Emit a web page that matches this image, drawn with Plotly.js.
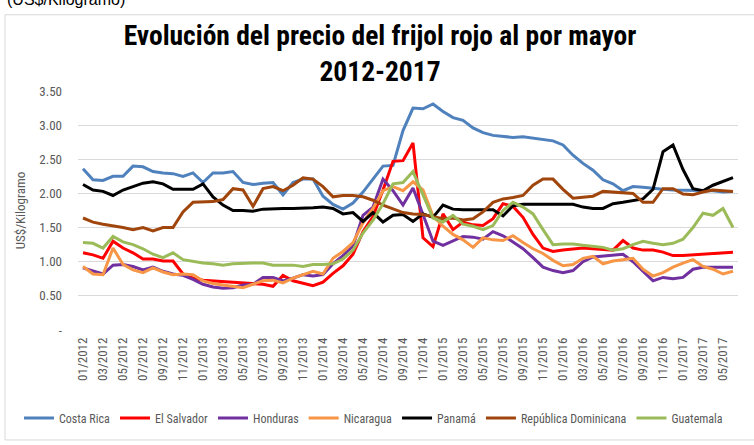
<!DOCTYPE html>
<html>
<head>
<meta charset="utf-8">
<script src="https://cdn.plot.ly/plotly-3.0.1.min.js"></script>
<style>html,body{margin:0;padding:0;background:#fff;}#chart{width:754px;height:445px;}</style>
</head>
<body>
<div id="chart"></div>
<script>
// Month categories 01/2012 .. 06/2017
const years = [2012, 2013, 2014, 2015, 2016, 2017];
const months = ['01','02','03','04','05','06','07','08','09','10','11','12'];
const categories = [];
years.forEach(y => months.forEach(m => { if (!(y === 2017 && +m > 6)) categories.push(m + '/' + y); }));

const costaRica = [2.36,2.20,2.19,2.25,2.25,2.40,2.39,2.32,2.30,2.29,2.25,2.30,2.16,2.30,2.30,2.32,2.16,
  2.13,2.15,2.16,1.98,2.16,2.21,2.21,1.96,1.84,1.77,1.86,2.02,2.21,2.40,2.41,2.92,
  3.25,3.24,3.31,3.20,3.11,3.07,2.96,2.89,2.85,2.84,2.82,2.83,2.81,2.78,2.77,2.71,2.56,
  2.44,2.34,2.20,2.14,2.04,2.10,2.09,2.07,2.06,2.05,2.05,2.04,2.04,2.04,2.02,2.03];
const elSalvador = [1.13,1.10,1.05,1.30,1.20,1.13,1.04,1.04,1.01,1.01,0.82,0.76,0.73,0.72,0.72,0.71,0.69,0.68,0.67,0.64,0.80,0.72,0.68,0.65,0.70,
  0.83,0.94,1.11,1.44,1.66,2.05,2.47,2.48,2.74,1.35,1.22,1.70,1.47,1.58,1.54,1.53,1.63,1.85,1.81,1.65,1.40,1.20,1.15,1.17,1.19,
  1.20,1.19,1.18,1.17,1.31,1.20,1.17,1.17,1.14,1.09,1.09,1.10,1.12,1.13,1.14,1.14];
const honduras = [0.91,0.87,0.82,0.95,0.96,0.93,0.88,0.92,0.86,0.82,0.80,0.74,0.67,0.63,0.61,0.62,0.66,0.67,0.77,0.77,0.72,0.76,0.81,0.79,0.81,
  0.97,1.09,1.23,1.68,1.80,2.21,2.04,1.83,2.08,1.68,1.30,1.24,1.31,1.37,1.36,1.33,1.44,1.38,1.29,1.19,1.06,0.92,0.87,0.84,0.87,
  1.00,1.07,1.08,1.09,1.11,1.00,0.86,0.72,0.77,0.75,0.77,0.89,0.92,0.92,0.92,0.92];
const nicaragua = [0.93,0.82,0.81,1.20,0.96,0.88,0.84,0.91,0.85,0.81,0.82,0.81,0.72,0.68,0.66,0.64,0.62,0.67,0.72,0.73,0.69,0.76,0.81,0.86,0.82,
  1.05,1.15,1.28,1.57,1.78,2.04,2.10,2.04,2.17,2.05,1.67,1.52,1.40,1.32,1.21,1.35,1.32,1.31,1.38,1.28,1.19,1.12,1.02,0.94,0.96,
  1.05,1.08,0.97,1.01,1.03,1.05,0.89,0.79,0.84,0.92,0.98,1.03,0.93,0.89,0.82,0.86];
const panama = [2.13,2.05,2.03,1.97,2.05,2.10,2.15,2.17,2.14,2.06,2.06,2.06,2.14,1.95,1.83,1.75,1.75,
  1.74,1.77,1.78,1.78,1.78,1.78,1.79,1.80,1.78,1.70,1.72,1.59,1.72,1.58,1.68,1.69,1.59,1.70,1.65,
  1.83,1.77,1.76,1.76,1.76,1.76,1.67,1.82,1.84,1.84,1.84,1.84,1.84,1.84,
  1.80,1.78,1.78,1.85,1.87,1.89,1.92,2.06,2.61,2.71,2.35,2.07,2.04,2.12,2.17,2.23];
const repDominicana = [1.64,1.58,1.55,1.53,1.50,1.47,1.50,1.45,1.50,1.50,1.73,1.87,1.87,1.88,1.91,2.07,2.05,
  1.81,2.07,2.10,2.04,2.12,2.23,2.21,2.10,1.95,1.97,1.97,1.95,1.90,1.83,1.77,1.72,
  1.70,1.69,1.66,1.63,1.64,1.61,1.63,1.73,1.87,1.92,1.94,1.97,2.12,2.21,2.21,2.06,1.93,
  1.95,1.96,2.03,2.02,2.02,2.00,1.87,1.87,2.07,2.07,1.99,1.98,2.02,2.05,2.04,2.03];
const guatemala = [1.28,1.27,1.20,1.37,1.29,1.25,1.19,1.11,1.06,1.13,1.03,1.00,0.98,0.97,0.95,0.97,0.98,0.98,0.98,0.95,0.95,0.95,0.93,0.96,0.96,
  0.97,1.04,1.17,1.42,1.61,1.85,2.14,2.16,2.32,1.98,1.64,1.58,1.68,1.55,1.52,1.47,1.53,1.75,1.87,1.80,1.70,1.47,1.25,1.26,1.26,
  1.24,1.22,1.21,1.17,1.19,1.25,1.30,1.27,1.25,1.27,1.33,1.50,1.71,1.68,1.78,1.50];

const seriesNames = ['Costa Rica','El Salvador','Honduras','Nicaragua','Panamá','República Dominicana','Guatemala'];
const seriesValues = [costaRica, elSalvador, honduras, nicaragua, panama, repDominicana, guatemala];
const seriesColors = ['#4F81BD','#FF0000','#7030A0','#F79646','#000000','#A0450C','#9BBB59'];

const yTickVals = [0, 0.5, 1, 1.5, 2, 2.5, 3, 3.5];
const yTickText = ['-', '0.50', '1.00', '1.50', '2.00', '2.50', '3.00', '3.50'];

const FONT = '"Liberation Sans Narrow", "Roboto Condensed", "Arial Narrow", Calibri, sans-serif';

const traces = seriesNames.map((n, k) => ({
  type: 'scatter', mode: 'lines', name: n,
  x: categories, y: seriesValues[k],
  line: {color: seriesColors[k], width: 3}
}));

const layout = {
  width: 754, height: 445,
  margin: {l: 78, r: 16, t: 91, b: 108, pad: 0},
  paper_bgcolor: '#ffffff', plot_bgcolor: '#ffffff',
  font: {family: FONT, size: 12, color: '#595959'},
  title: {
    text: '<b>Evolución del precio del frijol rojo al por mayor<br>2012-2017</b>',
    font: {family: FONT, size: 27.5, color: '#000000'},
    x: 0.504, xref: 'container', xanchor: 'center',
    y: 0.899, yref: 'container', yanchor: 'top'
  },
  xaxis: {
    type: 'category', range: [-0.5, categories.length - 0.5],
    tickmode: 'linear', tick0: 0, dtick: 2, tickangle: -90,
    showgrid: false, showline: false, zeroline: false, ticks: '',
    ticklabelstandoff: 4,
    tickfont: {family: FONT, size: 13, color: '#595959'}
  },
  yaxis: {
    range: [0, 3.5], tickvals: yTickVals, ticktext: yTickText,
    showgrid: true, gridcolor: '#D9D9D9', gridwidth: 1, zeroline: false, ticks: '',
    ticklabelstandoff: 15,
    tickfont: {family: FONT, size: 13, color: '#595959'},
    title: {text: 'US$/Kilogramo', font: {family: FONT, size: 13, color: '#595959'}, standoff: 10}
  },
  showlegend: true,
  legend: {
    orientation: 'h', x: -0.0894, xanchor: 'left', y: -0.368, yanchor: 'middle',
    font: {family: FONT, size: 12, color: '#595959'}, itemwidth: 30, tracegroupgap: 0
  },
  shapes: [{
    type: 'rect', xref: 'paper', yref: 'paper',
    x0: -0.1106, x1: 1.04, y0: -0.46, y1: 1.319,
    line: {color: '#D9D9D9', width: 1}, fillcolor: 'rgba(0,0,0,0)', layer: 'below'
  }],
  annotations: [{
    text: '(US$/Kilogramo)', xref: 'paper', yref: 'paper',
    x: -0.1106, xanchor: 'left', y: 1.339, yanchor: 'bottom', showarrow: false,
    font: {family: '"Liberation Sans", Arial, sans-serif', size: 16, color: '#000000'}
  }]
};

Plotly.newPlot('chart', traces, layout, {displayModeBar: false, staticPlot: true});
</script>
</body>
</html>
